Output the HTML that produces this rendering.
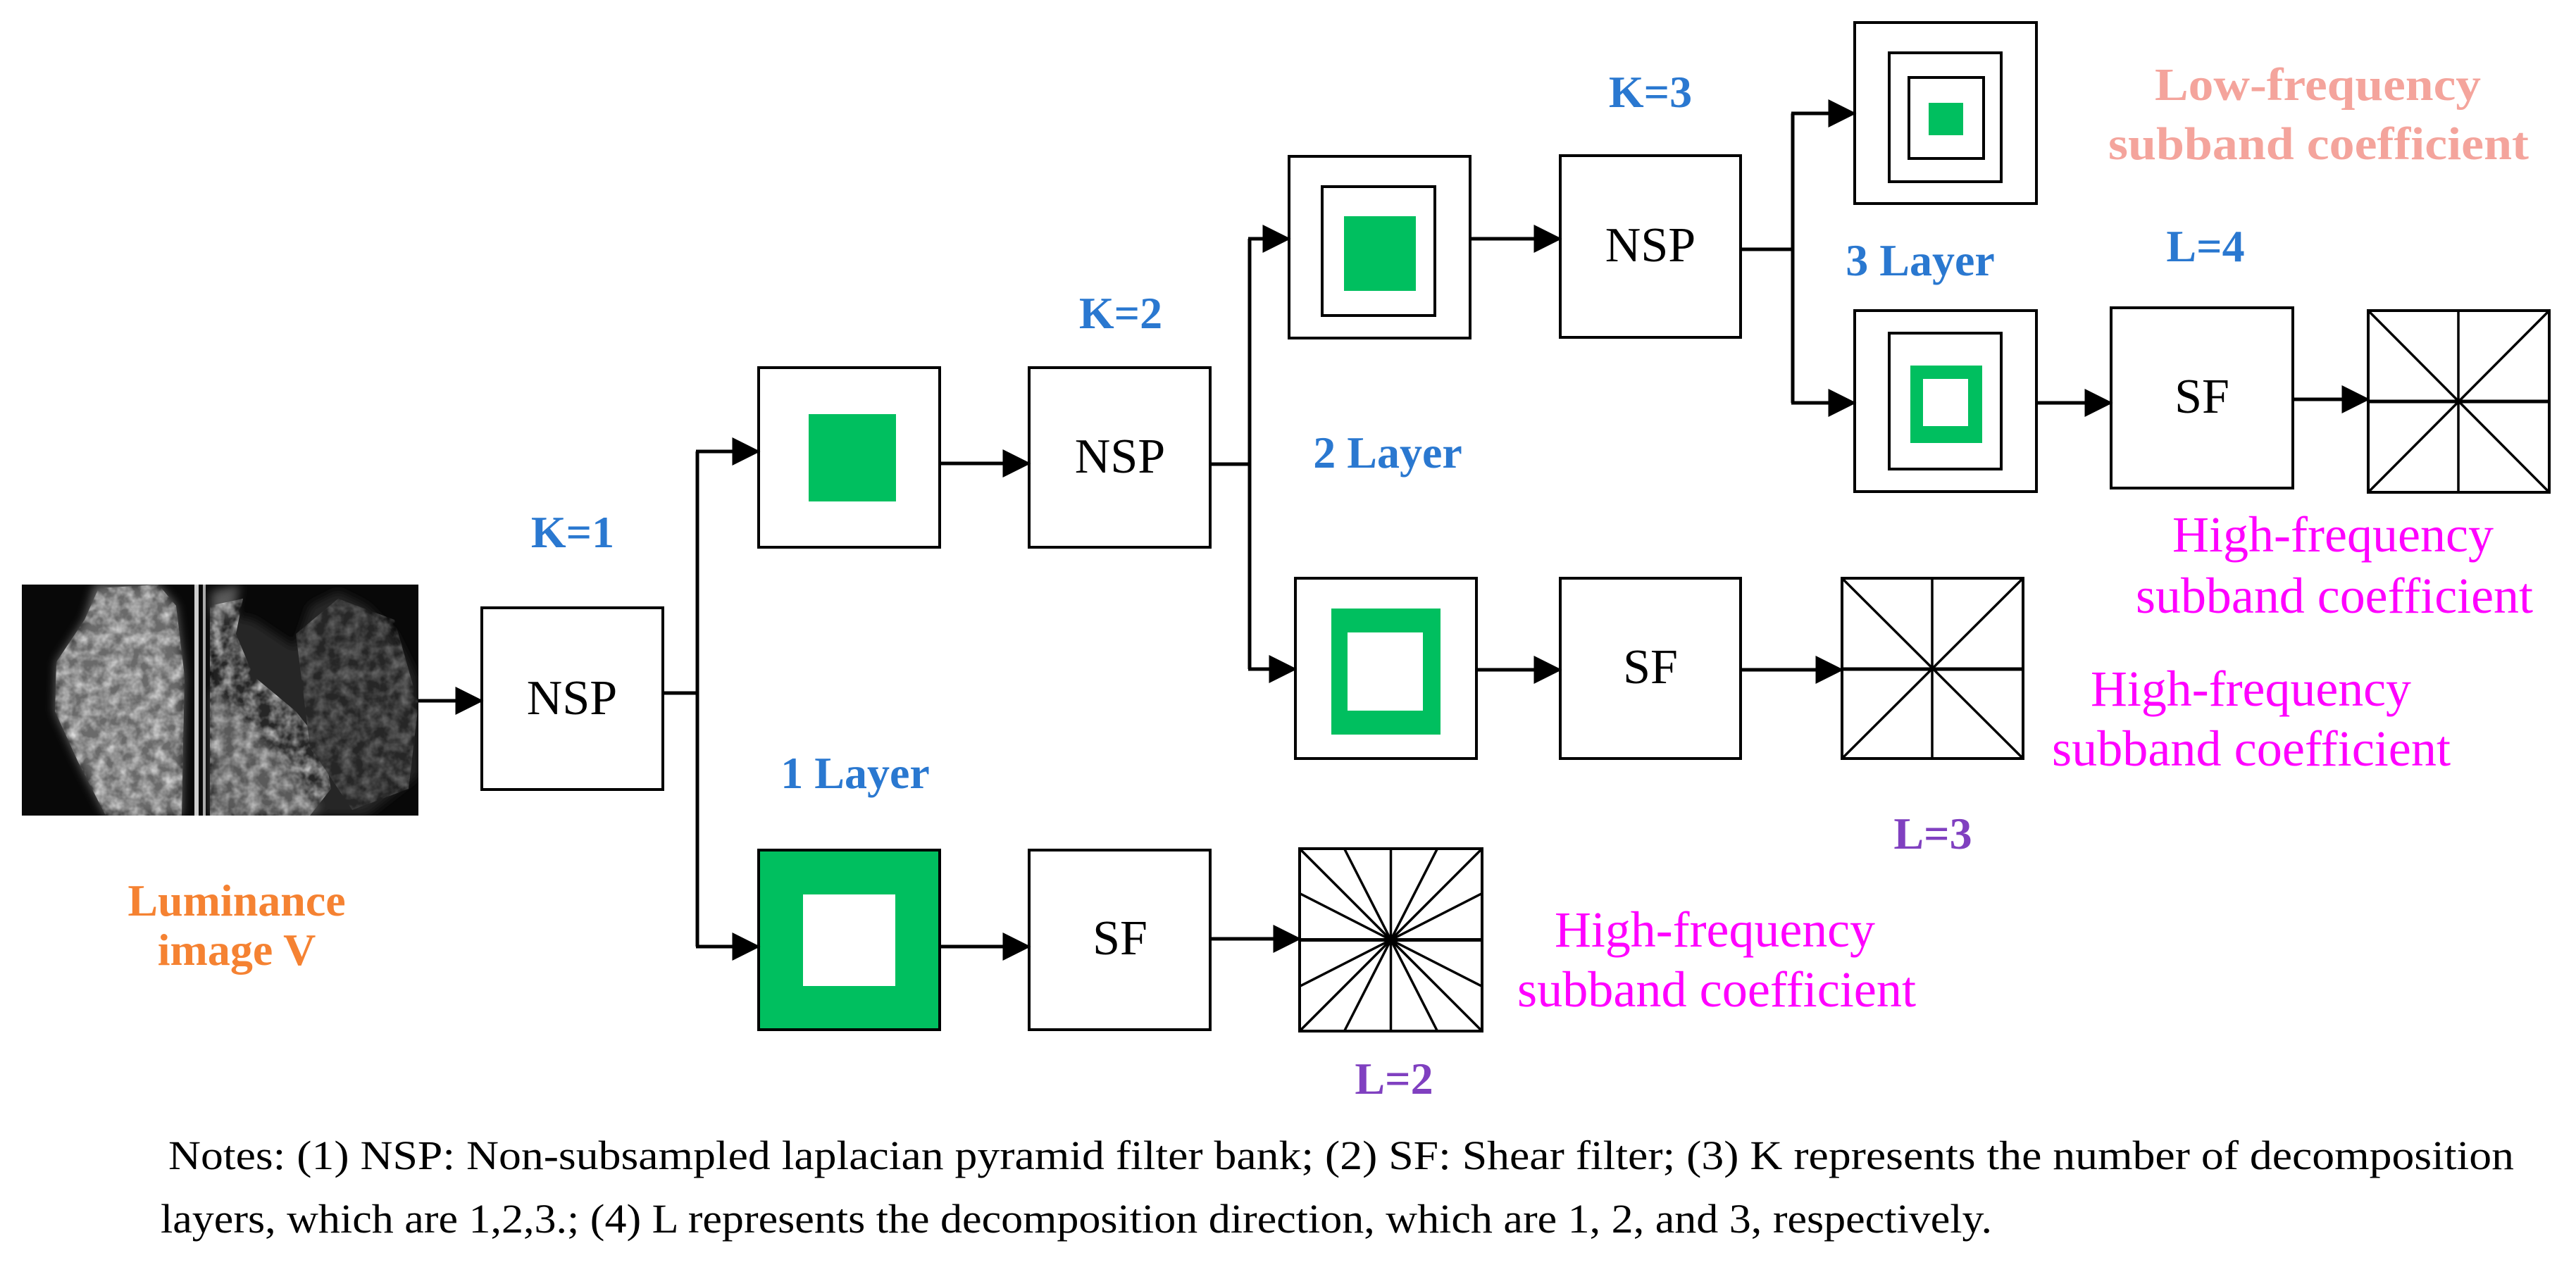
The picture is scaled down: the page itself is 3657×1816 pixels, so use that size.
<!DOCTYPE html>
<html><head><meta charset="utf-8"><style>html,body{margin:0;padding:0;background:#fff}svg{display:block}
.sr{font-family:"Liberation Serif","Times New Roman",serif}</style></head>
<body>
<svg width="3657" height="1816" viewBox="0 0 3657 1816" xmlns="http://www.w3.org/2000/svg">
<defs>
<marker id="ah" markerWidth="40" markerHeight="40" refX="7.5" refY="4" orient="auto" markerUnits="userSpaceOnUse" viewBox="0 0 8 8"><path d="M0,0 L8,4 L0,8 z" fill="#000"/></marker>
<filter id="bl" x="-10%" y="-10%" width="120%" height="120%"><feGaussianBlur stdDeviation="7"/></filter>
<filter id="tx" x="0" y="0" width="100%" height="100%">
<feTurbulence type="fractalNoise" baseFrequency="0.06" numOctaves="3" seed="4" result="n"/>
<feColorMatrix in="n" type="matrix" values="0 0 0 0 0  0 0 0 0 0  0 0 0 0 0  0 0 0 -1.6 1.1" result="a"/>
<feComposite in="SourceGraphic" in2="a" operator="in"/>
</filter>
<clipPath id="ic"><rect x="31" y="830" width="563" height="328"/></clipPath>
</defs>
<rect width="3657" height="1816" fill="#fff"/>

<g clip-path="url(#ic)">
<rect x="31" y="830" width="563" height="328" fill="#080808"/>
<g filter="url(#bl)">
<path d="M135,830 L225,830 L250,860 L262,960 L258,1158 L150,1158 L110,1080 L78,1010 L80,940 L120,880 Z" fill="#6a6a6a"/>
<path d="M300,840 L340,830 L330,880 L345,940 L400,1000 L440,1050 L470,1100 L450,1158 L300,1158 Z" fill="#5a5a5a"/>
<path d="M300,870 L360,880 L420,920 L440,860 L480,840 L520,860 L560,900 L590,960 L594,1100 L520,1158 L460,1158 L400,1080 L340,1020 L300,980 Z" fill="#262626"/>
</g>
<g filter="url(#tx)">
<path d="M140,835 L225,830 L250,860 L262,960 L258,1158 L150,1158 L110,1080 L78,1010 L80,940 L120,880 Z" fill="#e0e0e0"/>
<path d="M298,860 L345,850 L335,900 L360,960 L420,1010 L460,1060 L470,1120 L440,1158 L298,1158 Z" fill="#c8c8c8"/>
<path d="M420,900 L480,850 L560,880 L594,1000 L580,1120 L500,1150 L440,1060 Z" fill="#707070"/>
</g>
<rect x="276" y="830" width="6" height="328" fill="#cfcfcf"/>
<rect x="288" y="830" width="4" height="328" fill="#aaa"/>
</g>

<g stroke="#000" stroke-width="4" fill="#fff">
<rect x="684" y="863" width="257" height="258"/>
<rect x="1077" y="522" width="257" height="255"/>
<rect x="1461" y="522" width="257" height="255"/>
<rect x="1830" y="222" width="257" height="258"/>
<rect x="1877" y="265" width="160" height="183"/>
<rect x="2215" y="221" width="256" height="258"/>
<rect x="2633" y="32" width="258" height="257"/>
<rect x="2682" y="75" width="159" height="183"/>
<rect x="2710" y="110" width="106" height="115"/>
<rect x="2633" y="441" width="258" height="257"/>
<rect x="2682" y="473" width="159" height="193"/>
<rect x="2997" y="437" width="258" height="256"/>
<rect x="3362" y="441" width="257" height="258"/>
<rect x="1839" y="821" width="257" height="256"/>
<rect x="2215" y="821" width="256" height="256"/>
<rect x="2615" y="821" width="257" height="256"/>
<rect x="1077" y="1207" width="257" height="255" fill="#00bf5f"/>
<rect x="1461" y="1207" width="257" height="255"/>
<rect x="1845" y="1205" width="259" height="259"/>
</g>

<rect x="1148" y="588" width="124" height="124" fill="#00bf5f"/>
<rect x="1908" y="307" width="102" height="106" fill="#00bf5f"/>
<rect x="2738" y="146" width="49" height="46" fill="#00bf5f"/>
<rect x="2712" y="519" width="102" height="110" fill="#00bf5f"/>
<rect x="2730" y="538" width="64" height="67" fill="#fff"/>
<rect x="1890" y="864" width="155" height="179" fill="#00bf5f"/>
<rect x="1913" y="898" width="107" height="111" fill="#fff"/>
<rect x="1140" y="1270" width="131" height="130" fill="#fff"/>

<g stroke="#000" stroke-width="3.5" fill="none">
<line x1="3490" y1="441" x2="3490" y2="699"/>
<line x1="3362" y1="441" x2="3619" y2="699"/>
<line x1="3619" y1="441" x2="3362" y2="699"/>
<line x1="3362" y1="570" x2="3619" y2="570" stroke-width="5"/>
<line x1="2743" y1="821" x2="2743" y2="1077"/>
<line x1="2615" y1="821" x2="2872" y2="1077"/>
<line x1="2872" y1="821" x2="2615" y2="1077"/>
<line x1="2615" y1="950" x2="2872" y2="950" stroke-width="5"/>
<g transform="translate(1974.5,1334.5)">
<line x1="-129.5" y1="-129.5" x2="129.5" y2="129.5"/>
<line x1="129.5" y1="-129.5" x2="-129.5" y2="129.5"/>
<line x1="0" y1="-129.5" x2="0" y2="129.5"/>
<line x1="-129.5" y1="0" x2="129.5" y2="0" stroke-width="5"/>
<line x1="-66" y1="-129.5" x2="66" y2="129.5"/>
<line x1="66" y1="-129.5" x2="-66" y2="129.5"/>
<line x1="-129.5" y1="-66" x2="129.5" y2="66"/>
<line x1="-129.5" y1="66" x2="129.5" y2="-66"/>
</g>
</g>

<g stroke="#000" stroke-width="5" fill="none">
<line x1="594" y1="995" x2="684" y2="995" marker-end="url(#ah)"/>
<polyline points="941,984 990,984"/>
<line x1="990" y1="641" x2="990" y2="1344"/>
<line x1="988" y1="641" x2="1077" y2="641" marker-end="url(#ah)"/>
<line x1="988" y1="1344" x2="1077" y2="1344" marker-end="url(#ah)"/>
<line x1="1334" y1="658" x2="1461" y2="658" marker-end="url(#ah)"/>
<line x1="1334" y1="1344" x2="1461" y2="1344" marker-end="url(#ah)"/>
<line x1="1718" y1="1333" x2="1845" y2="1333" marker-end="url(#ah)"/>
<polyline points="1718,659 1774,659"/>
<line x1="1774" y1="339" x2="1774" y2="950"/>
<line x1="1772" y1="339" x2="1830" y2="339" marker-end="url(#ah)"/>
<line x1="1772" y1="950" x2="1839" y2="950" marker-end="url(#ah)"/>
<line x1="2096" y1="951" x2="2215" y2="951" marker-end="url(#ah)"/>
<line x1="2471" y1="951" x2="2615" y2="951" marker-end="url(#ah)"/>
<line x1="2087" y1="339" x2="2215" y2="339" marker-end="url(#ah)"/>
<polyline points="2471,354 2545,354"/>
<line x1="2545" y1="161" x2="2545" y2="572"/>
<line x1="2543" y1="161" x2="2633" y2="161" marker-end="url(#ah)"/>
<line x1="2543" y1="572" x2="2633" y2="572" marker-end="url(#ah)"/>
<line x1="2891" y1="572" x2="2997" y2="572" marker-end="url(#ah)"/>
<line x1="3255" y1="567" x2="3362" y2="567" marker-end="url(#ah)"/>
</g>

<g class="sr" font-size="70" fill="#000" text-anchor="middle">
<text x="812" y="1014">NSP</text>
<text x="1590" y="671">NSP</text>
<text x="2343" y="371">NSP</text>
<text x="3126" y="586">SF</text>
<text x="2343" y="970">SF</text>
<text x="1590" y="1355">SF</text>
</g>

<g class="sr" font-weight="bold" font-size="64" fill="#2a78d0" text-anchor="middle">
<text x="813" y="777">K=1</text>
<text x="1591" y="466">K=2</text>
<text x="2343" y="152">K=3</text>
<text x="3131" y="371">L=4</text>
<text x="2726" y="391">3 Layer</text>
<text x="1970" y="664">2 Layer</text>
<text x="1214" y="1119">1 Layer</text>
</g>
<g class="sr" font-weight="bold" font-size="64" fill="#8040c0" text-anchor="middle">
<text x="2744" y="1205">L=3</text>
<text x="1979" y="1553">L=2</text>
</g>
<g class="sr" font-weight="bold" font-size="64" fill="#f58232" text-anchor="middle">
<text x="336" y="1300">Luminance</text>
<text x="336" y="1370">image V</text>
</g>
<g class="sr" font-weight="bold" font-size="66" fill="#f4a49c">
<text x="3059" y="142" textLength="463" lengthAdjust="spacingAndGlyphs">Low-frequency</text>
<text x="2993" y="226" textLength="597" lengthAdjust="spacingAndGlyphs">subband coefficient</text>
</g>
<g class="sr" font-size="72" fill="#ff00ff">
<text x="3084" y="783" textLength="456" lengthAdjust="spacingAndGlyphs">High-frequency</text>
<text x="3032" y="870" textLength="564" lengthAdjust="spacingAndGlyphs">subband coefficient</text>
<text x="2968" y="1002" textLength="455" lengthAdjust="spacingAndGlyphs">High-frequency</text>
<text x="2913" y="1087" textLength="566" lengthAdjust="spacingAndGlyphs">subband coefficient</text>
<text x="2207" y="1344" textLength="455" lengthAdjust="spacingAndGlyphs">High-frequency</text>
<text x="2154" y="1429" textLength="566" lengthAdjust="spacingAndGlyphs">subband coefficient</text>
</g>

<g class="sr" font-size="58" fill="#000">
<text x="239" y="1660" textLength="3330" lengthAdjust="spacingAndGlyphs">Notes: (1) NSP:   Non-subsampled laplacian pyramid filter bank; (2) SF: Shear filter; (3)  K represents the number of decomposition</text>
<text x="228" y="1750" textLength="2600" lengthAdjust="spacingAndGlyphs">layers, which are 1,2,3.;  (4) L represents the decomposition direction, which are 1, 2, and 3, respectively.</text>
</g>
</svg>
</body></html>
